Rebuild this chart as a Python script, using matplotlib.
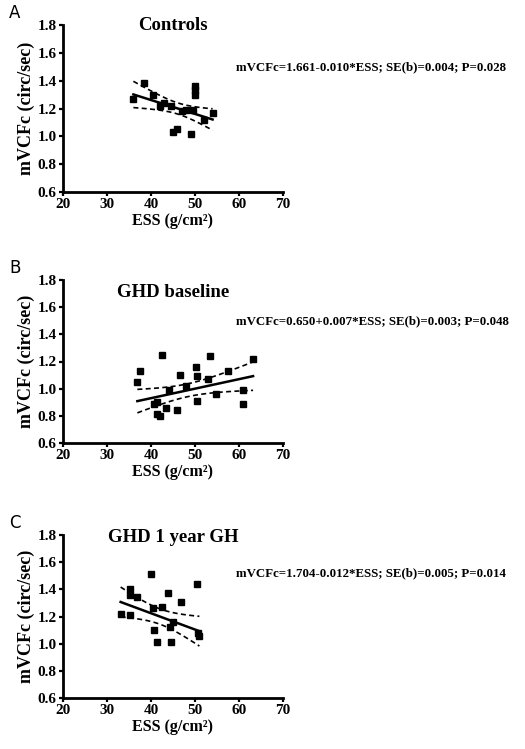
#!/usr/bin/env python3
# -*- coding=utf-8 -*-

import matplotlib
matplotlib.use("Agg")
import matplotlib.pyplot as plt
import numpy as np

# panel A: controls
ctrl_ess = [36.0, 38.5, 40.5, 42.0, 43.0, 44.5, 45.0, 46.0, 47.0, 48.0, 49.0, 49.5, 50.0, 50.0, 50.0, 52.0, 54.0]
ctrl_vcf = [1.27, 1.38, 1.30, 1.22, 1.24, 1.22, 1.03, 1.05, 1.18, 1.19, 1.02, 1.19, 1.30, 1.33, 1.36, 1.12, 1.17]

# panel B: GHD baseline
base_ess = [36.9, 37.6, 42.5, 40.6, 41.4, 42.0, 41.4, 43.3, 44.0, 46.0, 46.5, 48.0, 50.3, 50.5,
            50.4, 53.4, 53.0, 54.7, 57.4, 60.8, 60.8, 63.2]
base_vcf = [1.05, 1.13, 1.25, 0.89, 0.81, 0.80, 0.90, 0.86, 0.99, 0.84, 1.10, 1.02, 1.16, 1.09,
            0.91, 1.24, 1.07, 0.96, 1.13, 0.99, 0.89, 1.22]

# panel C: GHD after 1 year GH
gh_ess = [33.1, 35.3, 35.3, 35.3, 36.8, 40.0, 40.5, 40.7, 41.3, 42.4, 43.9, 44.3, 44.6, 45.0, 46.9, 50.4, 50.6, 51.0]
gh_vcf = [1.22, 1.40, 1.36, 1.21, 1.34, 1.51, 1.26, 1.10, 1.01, 1.27, 1.37, 1.12, 1.01, 1.16, 1.31, 1.44, 1.08, 1.06]

letters = ["A", "B", "C"]
titles = ["Controls", "GHD baseline", "GHD 1 year GH"]
intercepts = [1.661, 0.650, 1.704]
slopes = [-0.010, 0.007, -0.012]
se_slopes = [0.004, 0.003, 0.005]
eq_texts = ["mVCFc=1.661-0.010*ESS; SE(b)=0.004; P=0.028",
            "mVCFc=0.650+0.007*ESS; SE(b)=0.003; P=0.048",
            "mVCFc=1.704-0.012*ESS; SE(b)=0.005; P=0.014"]
x_ticks = [20, 30, 40, 50, 60, 70]
y_ticks = [0.6, 0.8, 1.0, 1.2, 1.4, 1.6, 1.8]

SERIF = ["Liberation Serif", "DejaVu Serif"]
W, H = 525, 749

fig = plt.figure(figsize=(5.25, 7.49), dpi=100)

# axes boxes in pixels: left, top, right, bottom
boxes = [(63, 25, 283, 192), (63, 280, 283, 443), (63, 535, 283, 698)]
title_y = [1.80, 1.71, 1.78]
eq_dy = [42, 41, 38]
data = [(ctrl_ess, ctrl_vcf), (base_ess, base_vcf), (gh_ess, gh_vcf)]

for i, (l, t, r, b) in enumerate(boxes):
    ax = fig.add_axes([l / W, 1 - b / H, (r - l) / W, (b - t) / H])
    xs = np.array(data[i][0])
    ys = np.array(data[i][1])
    a, k = intercepts[i], slopes[i]

    ax.plot(xs, ys, "s", color="black", markersize=5, zorder=3)

    # fitted line and 95% confidence band (from the reported SE of the slope)
    xx = np.linspace(xs.min(), xs.max(), 100)
    fit = a + k * xx
    n = len(xs)
    sxx = np.sum((xs - xs.mean()) ** 2)
    half = 2.1 * se_slopes[i] * np.sqrt(sxx / n + (xx - xs.mean()) ** 2)
    ax.plot(xx, fit, color="black", lw=1.8)
    ax.plot(xx, fit + half, color="black", lw=1.2, ls=(0, (3, 2)))
    ax.plot(xx, fit - half, color="black", lw=1.2, ls=(0, (3, 2)))

    ax.set_xlim(20, 70)
    ax.set_ylim(0.6, 1.8)
    ax.set_xticks(x_ticks)
    ax.set_yticks(y_ticks)
    ax.set_xticklabels([str(v) for v in x_ticks])
    ax.set_yticklabels(["%.1f" % v for v in y_ticks])
    for sp in ["top", "right"]:
        ax.spines[sp].set_visible(False)
    for sp in ["left", "bottom"]:
        ax.spines[sp].set_linewidth(2)
    ax.tick_params(direction="out", length=3, width=1.6, labelsize=11, pad=1.5)
    for lab in ax.get_xticklabels() + ax.get_yticklabels():
        lab.set_family(SERIF)
        lab.set_fontweight("bold")

    ax.set_xlabel("ESS (g/cm²)", family=SERIF, fontweight="bold", fontsize=11.5, labelpad=1)
    ax.set_ylabel("mVCFc (circ/sec)", family=SERIF, fontweight="bold", fontsize=13, labelpad=2)
    ax.text(45, title_y[i], titles[i], family=SERIF, fontweight="bold", fontsize=13.5,
            ha="center", va="center")

    fig.text(9 / W, 1 - (t - 12) / H, letters[i], fontsize=12, ha="left", va="center")
    fig.text(236 / W, 1 - (t + eq_dy[i]) / H, eq_texts[i], family=SERIF, fontweight="bold",
             fontsize=9.3, ha="left", va="center")

fig.savefig("out.png", dpi=100)
